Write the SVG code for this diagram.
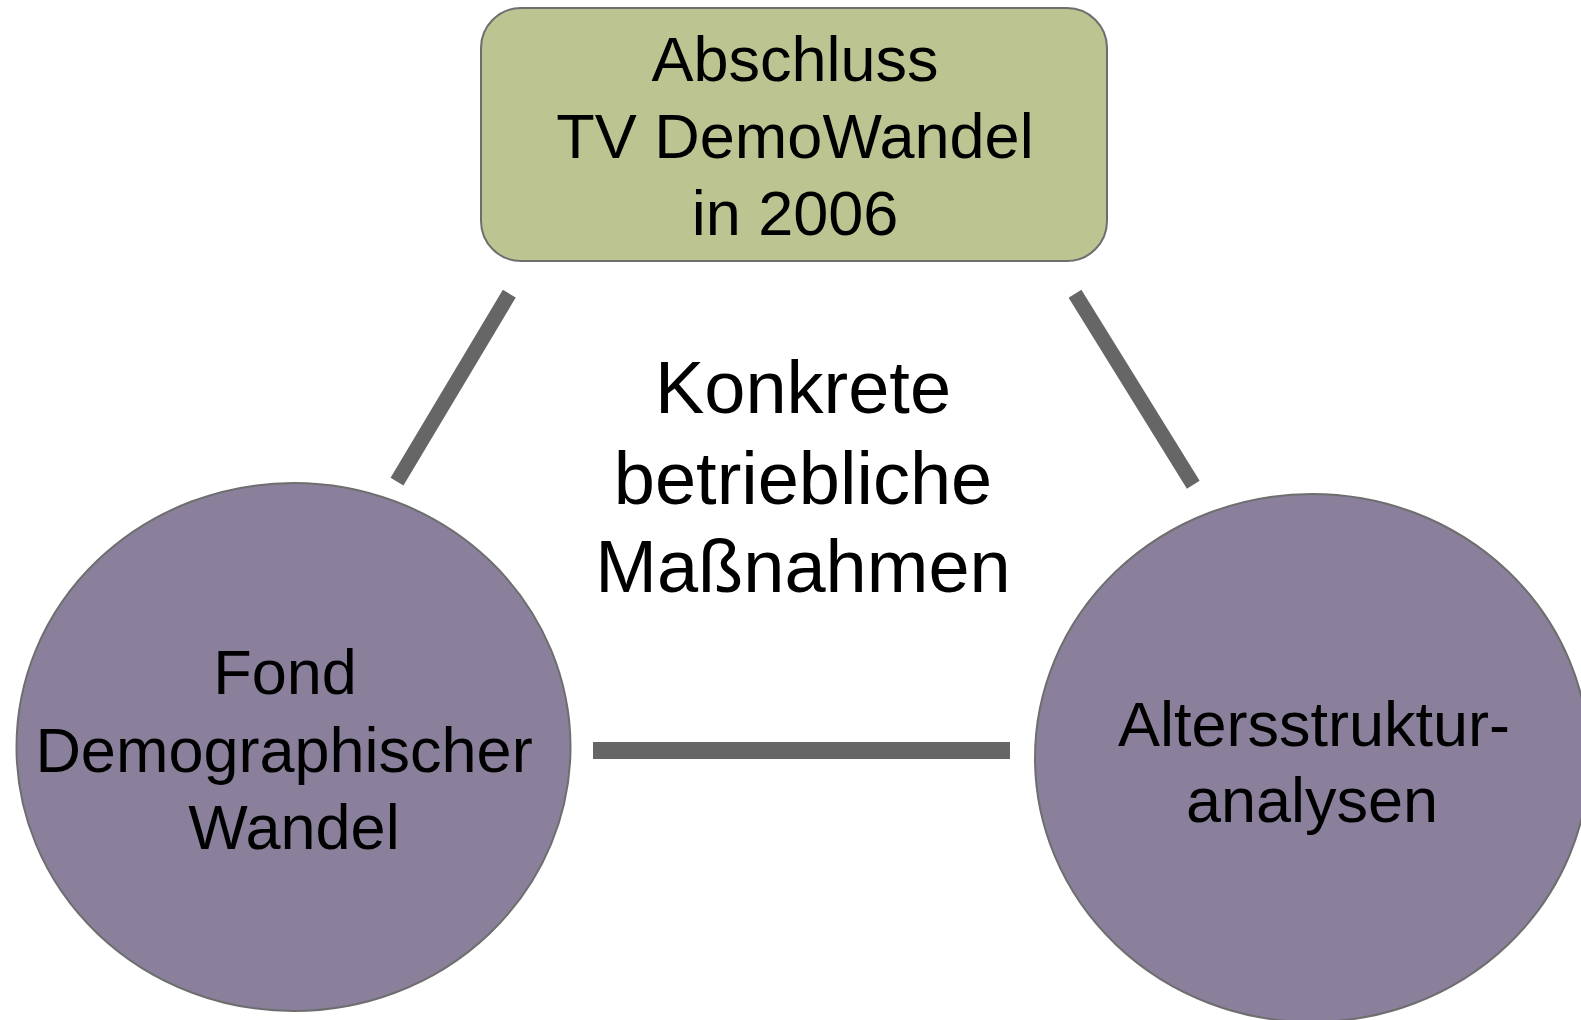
<svg xmlns="http://www.w3.org/2000/svg" width="1581" height="1020" viewBox="0 0 1581 1020">
<style>
.lbl{font-family:"Liberation Sans",Arial,sans-serif;font-size:63px;fill:#000;text-anchor:middle}
.mid{font-family:"Liberation Sans",Arial,sans-serif;font-size:74px;fill:#000;text-anchor:middle}
.conn{stroke:#666666;stroke-width:15;stroke-linecap:butt;fill:none}
.box{fill:#BCC592;stroke:#6E6E6E;stroke-width:2}
.circ{fill:#8A809C;stroke:#6E6E6E;stroke-width:2}
</style>
<rect width="1581" height="1020" fill="#fff"/>
<g id="connectors">
<line class="conn" x1="509.3" y1="293.7" x2="397" y2="481.7"/>
<line class="conn" x1="1075" y1="293.7" x2="1193.3" y2="484.7"/>
<line class="conn" x1="593" y1="750.5" x2="1010" y2="750.5" style="stroke-width:17"/>
</g>
<g id="node-abschluss">
<rect class="box" x="481" y="8" width="626" height="253" rx="40" ry="40"/>
<text class="lbl" x="795" y="81">Abschluss</text>
<text class="lbl" x="795" y="158">TV DemoWandel</text>
<text class="lbl" x="795" y="235">in 2006</text>
</g>
<g id="node-fond">
<ellipse class="circ" cx="293.5" cy="747" rx="277" ry="264"/>
<text class="lbl" x="285" y="694">Fond</text>
<text class="lbl" x="284" y="772">Demographischer</text>
<text class="lbl" x="294" y="849">Wandel</text>
</g>
<g id="node-alter">
<ellipse class="circ" cx="1312" cy="758" rx="277" ry="264"/>
<text class="lbl" x="1314" y="746">Altersstruktur-</text>
<text class="lbl" x="1312" y="822">analysen</text>
</g>
<g id="center-label">
<text class="mid" x="803" y="413">Konkrete</text>
<text class="mid" x="803" y="504">betriebliche</text>
<text class="mid" x="803" y="592">Maßnahmen</text>
</g>
</svg>
